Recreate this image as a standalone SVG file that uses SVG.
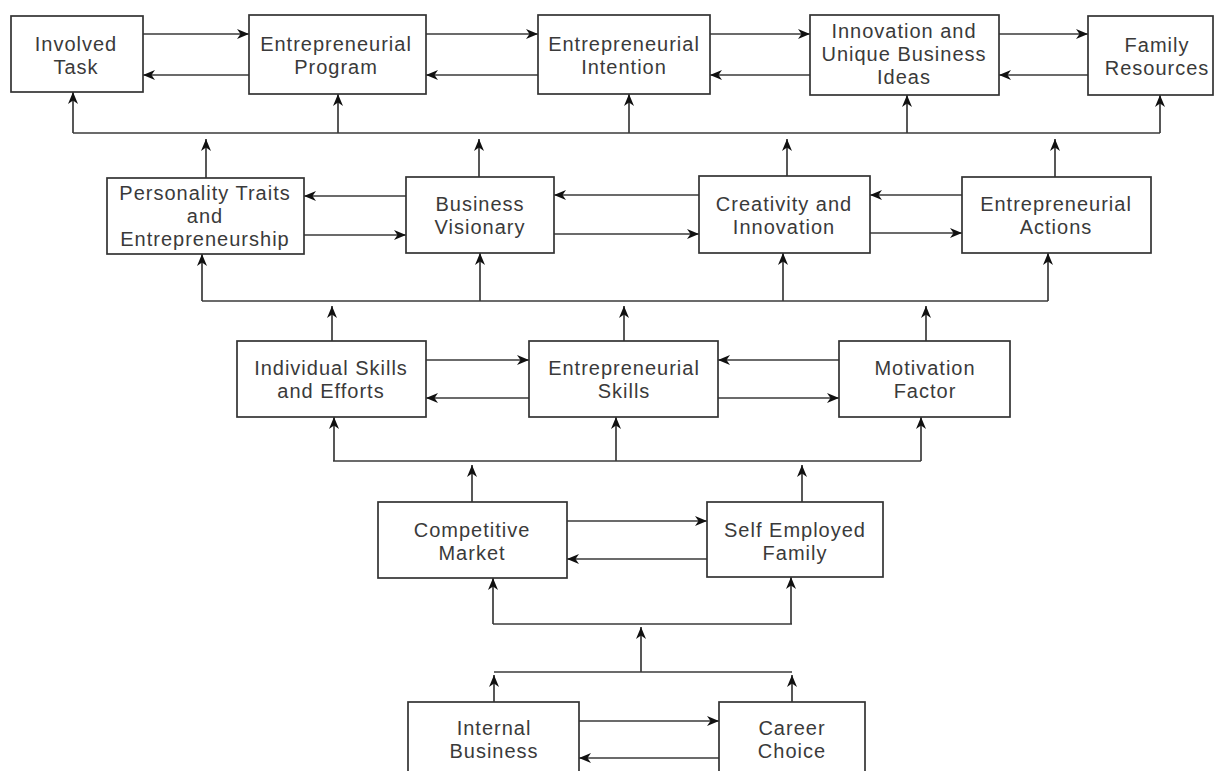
<svg xmlns="http://www.w3.org/2000/svg" width="1218" height="771" viewBox="0 0 1218 771">
<style>
.box{fill:#fff;stroke:#333;stroke-width:1.7}
.t{font-family:"Liberation Sans",Arial,sans-serif;font-size:20px;fill:#3a3a3a;text-anchor:middle;letter-spacing:1px}
.c path{fill:none;stroke:#3a3a3a;stroke-width:1.7}
.c path.a{marker-end:url(#ah)}
</style>
<defs>
<marker id="ah" markerUnits="userSpaceOnUse" markerWidth="13" markerHeight="11" refX="12" refY="5.5" orient="auto">
<path d="M0,0.5 L12,5.5 L0,10.5 L3.5,5.5 z" fill="#111"/>
</marker>
</defs>
<rect width="1218" height="771" fill="#fff"/>
<g class="c" id="connectors">
<path class="a" d="M143,34 H249"/>
<path class="a" d="M249,75 H143"/>
<path class="a" d="M426,34 H538"/>
<path class="a" d="M538,75 H426"/>
<path class="a" d="M710,34 H810"/>
<path class="a" d="M810,75 H710"/>
<path class="a" d="M999,34 H1088"/>
<path class="a" d="M1088,75 H999"/>
<path d="M73,133 H1160"/>
<path class="a" d="M73,133 V92"/>
<path class="a" d="M338,133 V94"/>
<path class="a" d="M629,133 V94"/>
<path class="a" d="M907,133 V95"/>
<path class="a" d="M1160,133 V95"/>
<path class="a" d="M206,178 V139"/>
<path class="a" d="M479,177 V139"/>
<path class="a" d="M787,176 V139"/>
<path class="a" d="M1055,177 V139"/>
<path class="a" d="M406,196 H304"/>
<path class="a" d="M304,235 H406"/>
<path class="a" d="M699,195 H554"/>
<path class="a" d="M554,234 H699"/>
<path class="a" d="M962,195 H870"/>
<path class="a" d="M870,233 H962"/>
<path d="M202,301 H1048"/>
<path class="a" d="M202,301 V254"/>
<path class="a" d="M480,301 V253"/>
<path class="a" d="M783,301 V253"/>
<path class="a" d="M1048,301 V253"/>
<path class="a" d="M332,341 V306"/>
<path class="a" d="M624,341 V306"/>
<path class="a" d="M926,341 V306"/>
<path class="a" d="M426,360 H529"/>
<path class="a" d="M529,398 H426"/>
<path class="a" d="M839,360 H718"/>
<path class="a" d="M718,398 H839"/>
<path d="M333,461 H921"/>
<path class="a" d="M334,461 V417"/>
<path class="a" d="M616,461 V417"/>
<path class="a" d="M921,461 V417"/>
<path class="a" d="M472,502 V465"/>
<path class="a" d="M802,502 V465"/>
<path class="a" d="M567,521 H707"/>
<path class="a" d="M707,559 H567"/>
<path d="M493,624 H792"/>
<path class="a" d="M493,624 V578"/>
<path class="a" d="M791,624 V577"/>
<path class="a" d="M641,672 V627"/>
<path d="M494,672 H792"/>
<path class="a" d="M494,702 V675"/>
<path class="a" d="M792,702 V675"/>
<path class="a" d="M579,721 H719"/>
<path class="a" d="M719,758 H579"/>
</g>
<g id="involved-task"><rect class="box" x="11" y="16" width="132" height="76"/><text class="t" x="76" y="51">Involved</text><text class="t" x="76" y="74">Task</text></g>
<g id="entrepreneurial-program"><rect class="box" x="249" y="15" width="177" height="79"/><text class="t" x="336" y="51">Entrepreneurial</text><text class="t" x="336" y="74">Program</text></g>
<g id="entrepreneurial-intention"><rect class="box" x="538" y="15" width="172" height="79"/><text class="t" x="624" y="51">Entrepreneurial</text><text class="t" x="624" y="74">Intention</text></g>
<g id="innovation"><rect class="box" x="810" y="15" width="189" height="80"/><text class="t" x="904" y="38">Innovation and</text><text class="t" x="904" y="61">Unique Business</text><text class="t" x="904" y="84">Ideas</text></g>
<g id="family-resources"><rect class="box" x="1088" y="16" width="125" height="79"/><text class="t" x="1157" y="52">Family</text><text class="t" x="1157" y="75">Resources</text></g>
<g id="personality"><rect class="box" x="107" y="178" width="197" height="76"/><text class="t" x="205" y="200">Personality Traits</text><text class="t" x="205" y="223">and</text><text class="t" x="205" y="246">Entrepreneurship</text></g>
<g id="business-visionary"><rect class="box" x="406" y="177" width="148" height="76"/><text class="t" x="480" y="211">Business</text><text class="t" x="480" y="234">Visionary</text></g>
<g id="creativity"><rect class="box" x="699" y="176" width="171" height="77"/><text class="t" x="784" y="211">Creativity and</text><text class="t" x="784" y="234">Innovation</text></g>
<g id="entrepreneurial-actions"><rect class="box" x="962" y="177" width="189" height="76"/><text class="t" x="1056" y="211">Entrepreneurial</text><text class="t" x="1056" y="234">Actions</text></g>
<g id="individual-skills"><rect class="box" x="237" y="341" width="189" height="76"/><text class="t" x="331" y="375">Individual Skills</text><text class="t" x="331" y="398">and Efforts</text></g>
<g id="entrepreneurial-skills"><rect class="box" x="529" y="341" width="189" height="76"/><text class="t" x="624" y="375">Entrepreneurial</text><text class="t" x="624" y="398">Skills</text></g>
<g id="motivation-factor"><rect class="box" x="839" y="341" width="171" height="76"/><text class="t" x="925" y="375">Motivation</text><text class="t" x="925" y="398">Factor</text></g>
<g id="competitive-market"><rect class="box" x="378" y="502" width="189" height="76"/><text class="t" x="472" y="537">Competitive</text><text class="t" x="472" y="560">Market</text></g>
<g id="self-employed-family"><rect class="box" x="707" y="502" width="176" height="75"/><text class="t" x="795" y="537">Self Employed</text><text class="t" x="795" y="560">Family</text></g>
<g id="internal-business"><rect class="box" x="408" y="702" width="171" height="90"/><text class="t" x="494" y="735">Internal</text><text class="t" x="494" y="758">Business</text></g>
<g id="career-choice"><rect class="box" x="719" y="702" width="146" height="90"/><text class="t" x="792" y="735">Career</text><text class="t" x="792" y="758">Choice</text></g>
</svg>
